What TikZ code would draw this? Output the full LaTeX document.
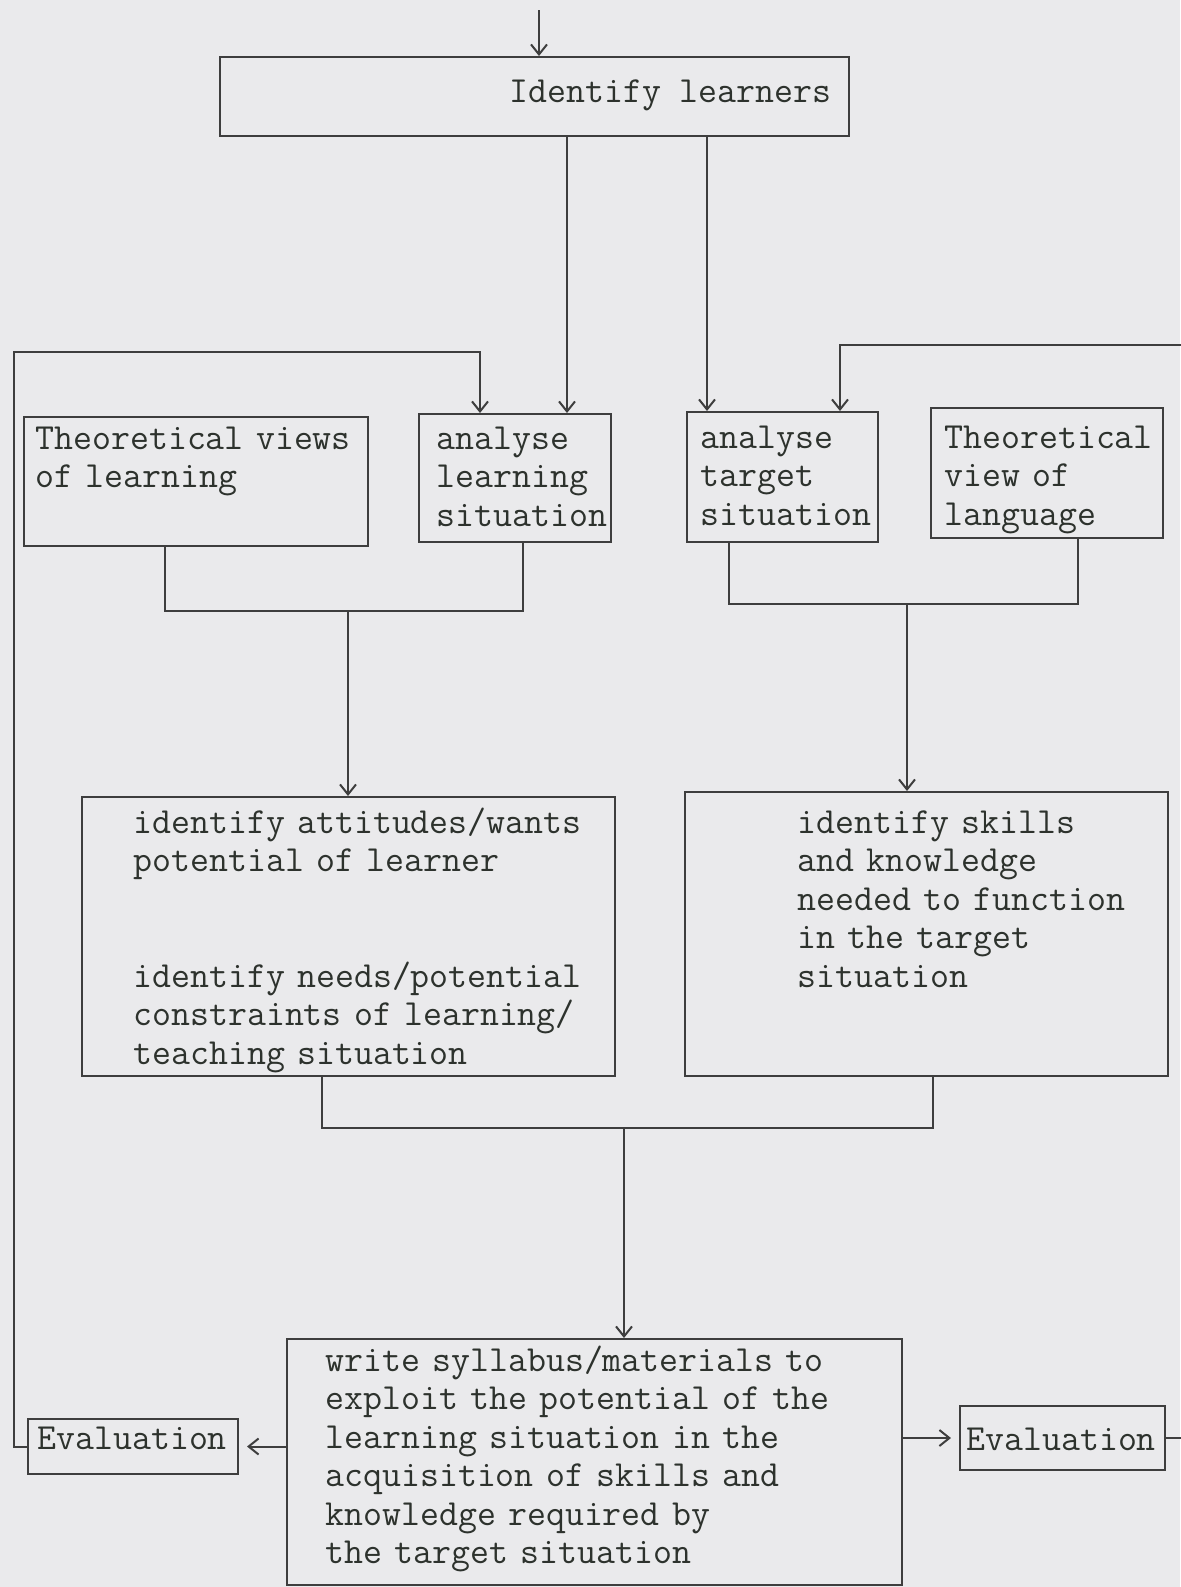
\documentclass[tikz,border=0pt]{standalone}
\usetikzlibrary{arrows.meta,positioning}
\definecolor{paper}{RGB}{234,234,236}
\definecolor{ink}{RGB}{62,62,62}
\definecolor{typeink}{RGB}{45,50,45}
\newcommand{\typefont}{\ttfamily\fontsize{18.4}{19.25}\selectfont
  \spaceskip=\fontcharwd\font`a\relax\xspaceskip=\spaceskip}

\begin{document}
\begin{tikzpicture}[
            x = 0.5pt,
            y = -0.5pt,
    box/.style = {draw=ink, line width=1pt, inner sep=0pt, anchor=north west},
    txt/.style = {inner sep=0pt, anchor=base west, text=typeink, font=\typefont},
  lines/.style = {txt, align=left, text width=300pt},
   link/.style = {draw=ink, line width=1pt},
    arr/.style = {link, -{Straight Barb[length=5pt,width=8pt]}},
                     ]
  \fill[paper] (0,0) rectangle (1180,1587);
  \useasboundingbox (0,0) rectangle (1180,1587);

  % boxes
  \node[box, minimum width=314.5pt, minimum height=39.5pt] (learners)  at (219,56)   {};
  \node[box, minimum width=172pt,   minimum height=64.5pt] (views)     at (23,416)   {};
  \node[box, minimum width=96pt,    minimum height=64pt]   (alearn)    at (418,413)  {};
  \node[box, minimum width=95.5pt,  minimum height=65pt]   (atarget)   at (686,411)  {};
  \node[box, minimum width=116pt,   minimum height=65pt]   (vlang)     at (930,407)  {};
  \node[box, minimum width=266.5pt, minimum height=139.5pt](attitudes) at (81,796)   {};
  \node[box, minimum width=241.5pt, minimum height=142pt]  (skills)    at (684,791)  {};
  \node[box, minimum width=307.5pt, minimum height=123pt]  (write)     at (286,1338) {};
  \node[box, minimum width=105pt,   minimum height=27.5pt] (evalL)     at (27,1418)  {};
  \node[box, minimum width=102.5pt, minimum height=32pt]   (evalR)     at (959,1405) {};

  % texts
  \node[txt, anchor=base east] (learners-t) at (832,102) {Identify learners};
  \node[lines] (views-t)   at (35,449)  {Theoretical views\\of learning};
  \node[lines] (alearn-t)  at (436,449) {analyse\\learning\\situation};
  \node[lines] (atarget-t) at (700,448) {analyse\\target\\situation};
  \node[lines] (vlang-t)   at (944,448) {Theoretical\\view of\\language};
  \node[lines] (attitudes-t) at (133,833) {identify attitudes/wants\\potential of learner\\[38.5pt]
      identify needs/potential\\constraints of learning/\\teaching situation};
  \node[lines] (skills-t)  at (797,833) {identify skills\\and knowledge\\needed to function\\in the target\\situation};
  \node[lines] (write-t)   at (325,1371) {write syllabus/materials to\\exploit the potential of the\\learning situation in the\\
      acquisition of skills and\\knowledge required by\\the target situation};
  \node[txt] (evalL-t) at (37,1449)  {Evaluation};
  \node[txt] (evalR-t) at (966,1450) {Evaluation};

  % connectors
  \coordinate (top)   at (539,10);
  \coordinate (xl)    at (567,0);
  \coordinate (xt)    at (707,0);
  \coordinate (loopL) at (14,352);
  \coordinate (xfl)   at (480,0);
  \coordinate (loopR) at (1192,345);
  \coordinate (xfr)   at (840,0);
  \coordinate (x1)    at (165,0);
  \coordinate (x2)    at (523,0);
  \coordinate (jl)    at (348,611);
  \coordinate (x3)    at (729,0);
  \coordinate (x4)    at (1078,0);
  \coordinate (jr)    at (907,604);
  \coordinate (x5)    at (322,0);
  \coordinate (x6)    at (933,0);
  \coordinate (jb)    at (624,1128);

  \draw[arr] (top) -- (top |- learners.north);
  \draw[arr] (learners.south -| xl) -- (alearn.north -| xl);
  \draw[arr] (learners.south -| xt) -- (atarget.north -| xt);

  \draw[arr] (evalL.west) -| (loopL) -| (alearn.north -| xfl);
  \draw[arr] (evalR.east) -| (loopR) -| (atarget.north -| xfr);

  \draw[link] (views.south -| x1) |- (jl) -| (alearn.south -| x2);
  \draw[arr] (jl) -- (attitudes.north -| jl);
  \draw[link] (atarget.south -| x3) |- (jr) -| (vlang.south -| x4);
  \draw[arr] (jr) -- (skills.north -| jr);

  \draw[link] (attitudes.south -| x5) |- (jb) -| (skills.south -| x6);
  \draw[arr] (jb) -- (write.north -| jb);

  \draw[arr, shorten >=4pt] (write.west |- evalL.east) -- (evalL.east);
  \draw[arr, shorten >=4pt] (write.east |- evalR.west) -- (evalR.west);
\end{tikzpicture}
\end{document}
